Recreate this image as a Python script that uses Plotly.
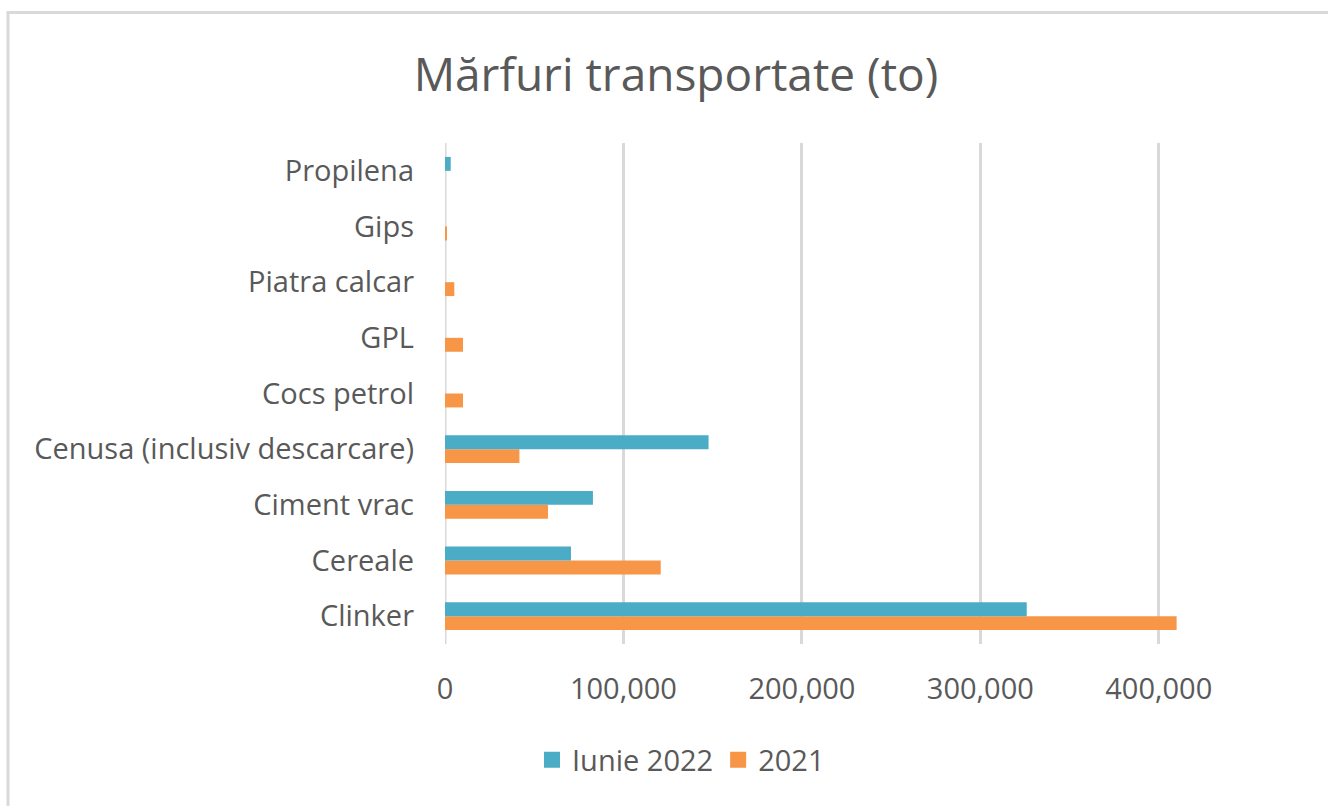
import plotly.graph_objects as go

categories = ["Clinker", "Cereale", "Ciment vrac", "Cenusa (inclusiv descarcare)",
              "Cocs petrol", "GPL", "Piatra calcar", "Gips", "Propilena"]
iunie_2022 = [326000, 70600, 82900, 147700, 0, 0, 0, 0, 3200]
an_2021 = [410000, 120900, 57700, 41700, 10100, 10100, 5200, 1100, 0]
tick_vals = [0, 100000, 200000, 300000, 400000]
tick_text = ["0", "100,000", "200,000", "300,000", "400,000"]

FONT = "Open Sans"
TXT = "#595959"
GRID = "#d9d9d9"
BLUE = "#4BACC6"
ORANGE = "#F79646"
FS = 29

fig = go.Figure()
fig.add_trace(go.Bar(y=categories, x=an_2021, name="2021", orientation="h",
                     marker=dict(color=ORANGE, line=dict(width=0)), showlegend=False))
fig.add_trace(go.Bar(y=categories, x=iunie_2022, name="Iunie 2022", orientation="h",
                     marker=dict(color=BLUE, line=dict(width=0)), showlegend=False))
# legend entries with larger square swatches
fig.add_trace(go.Scatter(x=[None], y=[None], mode="markers", name="Iunie 2022",
                         marker=dict(symbol="square", size=17, color=BLUE), legendrank=1))
fig.add_trace(go.Scatter(x=[None], y=[None], mode="markers", name="2021",
                         marker=dict(symbol="square", size=17, color=ORANGE), legendrank=2))

fig.update_layout(
    width=1328, height=806,
    margin=dict(l=445, r=80, t=143, b=162),
    paper_bgcolor="white", plot_bgcolor="white",
    barmode="group", bargap=0.5, bargroupgap=0,
    font=dict(family=FONT, color=TXT, size=FS),
    title=dict(text="Mărfuri transportate (to)", x=676 / 1328, xanchor="center",
               y=1 - 75 / 806, yanchor="middle",
               font=dict(family=FONT, size=46, color=TXT)),
    xaxis=dict(range=[0, 450000], tickvals=tick_vals, ticktext=tick_text,
               showgrid=True, gridcolor=GRID, gridwidth=2.5, zeroline=False,
               showline=False, ticks="", ticklabelstandoff=25,
               tickfont=dict(size=FS, color=TXT)),
    yaxis=dict(showgrid=False, zeroline=False, showline=False, ticks="",
               ticklabelstandoff=30, tickfont=dict(size=FS, color=TXT),
               categoryorder="array", categoryarray=categories),
    legend=dict(orientation="h", x=681 / 1328, xanchor="center", xref="container",
                y=1 - 760 / 806, yanchor="middle", yref="container",
                font=dict(size=FS, color=TXT),
                itemwidth=30, traceorder="normal"),
    shapes=[
        dict(type="line", xref="x", yref="paper", x0=0, x1=0, y0=0, y1=1,
             line=dict(color=GRID, width=3), layer="below"),
        dict(type="rect", xref="paper", yref="paper",
             x0=(8 - 445) / (1328 - 445 - 80), x1=1.2,
             y0=-1, y1=1 + (143 - 12.5) / (806 - 143 - 162),
             line=dict(color=GRID, width=3), fillcolor="rgba(0,0,0,0)", layer="below"),
    ],
)

fig.write_html("out.html")
